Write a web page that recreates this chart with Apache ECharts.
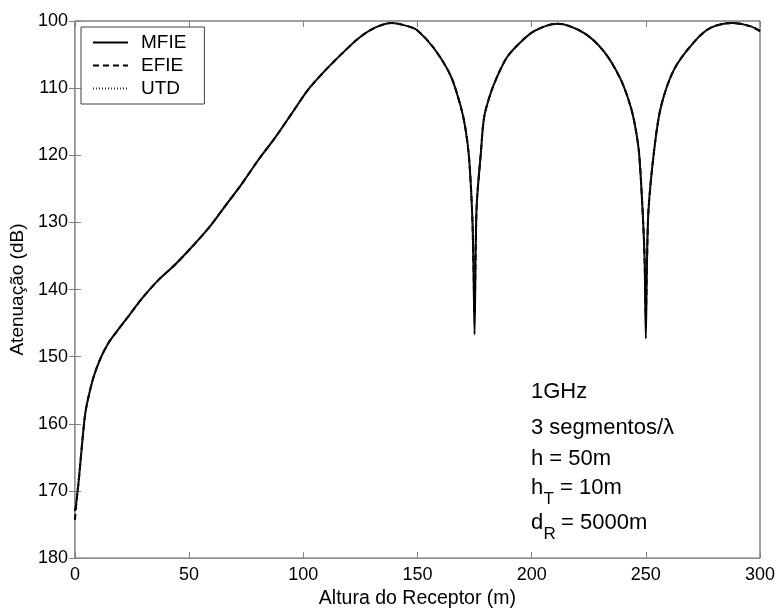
<!DOCTYPE html>
<html>
<head>
<meta charset="utf-8">
<script src="https://cdn.jsdelivr.net/npm/echarts@6/dist/echarts.min.js"></script>
<style>html,body{margin:0;padding:0;background:#fff}#c{width:779px;height:614px}</style>
</head>
<body>
<div id="c"></div>
<script>
// Receiver height (m)
var heights = [0, 0.5, 1, 1.5, 2.2, 3, 3.6, 4.5, 5.8, 8, 11, 14.6, 18.2, 23.4, 29.2, 36.5, 43.8, 51.1, 58.4, 65.7, 73, 80.3, 87.6, 94.9, 102.2, 109.5, 116.8, 124.1, 131.4, 138.7, 146, 150, 157.3, 164.6, 169, 171, 172.6, 174, 174.5, 175, 175.5, 176, 177.7, 179.2, 182, 185, 189, 193.8, 201.1, 211.3, 223, 231.8, 239, 243.4, 245.5, 247.1, 248.8, 249.5, 250, 250.5, 251.2, 253.6, 256.6, 262.4, 271.2, 278.5, 288, 296, 300];
// Attenuation (dB)
var mfie = [173.0, 172, 170.5, 169, 166.5, 163.5, 161.3, 158.5, 156.2, 153.2, 150.4, 148, 146.3, 144, 141.4, 138.6, 136.3, 133.7, 130.9, 127.6, 124.3, 120.7, 117.4, 113.8, 110.2, 107.4, 104.9, 102.6, 101, 100.3, 100.8, 101.4, 104.1, 108.2, 112.8, 116, 120.4, 129, 136, 146.7, 134, 127, 119.9, 114.3, 110.8, 108.2, 105.5, 103.6, 101.5, 100.4, 101.8, 104.6, 108.7, 112.8, 116, 119.9, 129.7, 136, 147.3, 136, 128, 119.4, 112.8, 107.2, 103.1, 101, 100.3, 100.8, 101.5];
var efie = [174.3, 172.3, 170.6, 169, 166.5, 163.5, 161.3, 158.5, 156.2, 153.2, 150.4, 148, 146.3, 144, 141.4, 138.6, 136.3, 133.7, 130.9, 127.6, 124.3, 120.7, 117.4, 113.8, 110.2, 107.4, 104.9, 102.6, 101, 100.3, 100.8, 101.4, 104.1, 108.2, 112.8, 116, 120.4, 129, 136, 143.5, 134, 127, 119.9, 114.3, 110.8, 108.2, 105.5, 103.6, 101.5, 100.4, 101.8, 104.6, 108.7, 112.8, 116, 119.9, 129.7, 136, 144, 136, 128, 119.4, 112.8, 107.2, 103.1, 101, 100.3, 100.8, 101.5];
var utd = [172.5, 171.5, 170.3, 168.8, 166.4, 163.4, 161.3, 158.5, 156.2, 153.2, 150.4, 148, 146.3, 144, 141.4, 138.6, 136.3, 133.7, 130.9, 127.6, 124.3, 120.7, 117.4, 113.8, 110.2, 107.4, 104.9, 102.6, 101, 100.3, 100.8, 101.4, 104.1, 108.2, 112.8, 116, 120.4, 129, 136, 138, 134, 127, 119.9, 114.3, 110.8, 108.2, 105.5, 103.6, 101.5, 100.4, 101.8, 104.6, 108.7, 112.8, 116, 119.9, 129.7, 136, 138, 136, 128, 119.4, 112.8, 107.2, 103.1, 101, 100.3, 100.8, 101.5];
var seriesNames = ['MFIE', 'EFIE', 'UTD'];
var xTicks = {min: 0, max: 300, interval: 50};
var yTicks = {min: 100, max: 180, interval: 10};

var FONT = '"Liberation Sans", Arial, sans-serif';
function pairs(ys) { return heights.map(function (x, i) { return [x, ys[i]]; }); }

var chart = echarts.init(document.getElementById('c'), null, {renderer: 'canvas'});
var tickStyle = {inside: true, length: 6, lineStyle: {color: '#808080', width: 1}};
var hidden = {show: false};
var lineCommon = {type: 'line', symbol: 'none', showSymbol: false, smooth: 0.3};
function mk(name, data, ls, z) {
  return Object.assign({}, lineCommon, {name: name, data: pairs(data), lineStyle: ls, itemStyle: {color: ls.color}, z: z});
}
chart.setOption({
  animation: false,
  backgroundColor: '#fff',
  grid: {left: 74, right: 19, top: 21, bottom: 53, show: true, borderColor: '#404040', borderWidth: 1, backgroundColor: 'transparent'},
  xAxis: [{
    type: 'value', min: xTicks.min, max: xTicks.max, interval: xTicks.interval, position: 'bottom',
    axisLine: hidden, axisTick: tickStyle, splitLine: hidden,
    axisLabel: {margin: 8, fontSize: 18, color: '#000', fontFamily: FONT},
    name: 'Altura do Receptor (m)', nameLocation: 'middle', nameGap: 27,
    nameTextStyle: {fontSize: 19.5, color: '#000', fontFamily: FONT}
  }, {
    type: 'value', min: xTicks.min, max: xTicks.max, interval: xTicks.interval, position: 'top',
    axisLine: hidden, axisTick: tickStyle, splitLine: hidden, axisLabel: hidden
  }],
  yAxis: [{
    type: 'value', inverse: true, min: yTicks.min, max: yTicks.max, interval: yTicks.interval, position: 'left',
    axisLine: hidden, axisTick: tickStyle, splitLine: hidden,
    axisLabel: {margin: 7, fontSize: 18, color: '#000', fontFamily: FONT},
    name: 'Atenuação (dB)', nameLocation: 'middle', nameGap: 35,
    nameTextStyle: {fontSize: 19, color: '#000', fontFamily: FONT}
  }, {
    type: 'value', inverse: true, min: yTicks.min, max: yTicks.max, interval: yTicks.interval, position: 'right',
    axisLine: hidden, axisTick: tickStyle, splitLine: hidden, axisLabel: hidden
  }],
  legend: {
    data: seriesNames, orient: 'vertical', left: 81, top: 27,
    padding: [4, 18, 4, 11], itemGap: 0, itemWidth: 35, itemHeight: 14,
    borderColor: '#404040', borderWidth: 1, backgroundColor: '#fff',
    itemStyle: {color: 'rgba(0,0,0,0)', borderWidth: 0, borderColor: 'rgba(0,0,0,0)'},
    textStyle: {fontSize: 19, color: '#000', fontFamily: FONT, lineHeight: 23, padding: [0, 0, 0, 8]}
  },
  series: [
    mk(seriesNames[0], mfie, {color: '#000', width: 2, type: 'solid'}, 3),
    mk(seriesNames[1], efie, {color: '#000', width: 2, type: [6, 4]}, 4),
    mk(seriesNames[2], utd, {color: '#333', width: 1, type: [1, 2]}, 5)
  ],
  graphic: [
    {type: 'text', x: 531, y: 392, z: 10, style: {text: '1GHz', fontSize: 22, fontFamily: FONT, fill: '#000', verticalAlign: 'middle'}},
    {type: 'text', x: 531, y: 428, z: 10, style: {text: '3 segmentos/λ', fontSize: 22, fontFamily: FONT, fill: '#000', verticalAlign: 'middle'}},
    {type: 'text', x: 531, y: 459, z: 10, style: {text: 'h = 50m', fontSize: 22, fontFamily: FONT, fill: '#000', verticalAlign: 'middle'}},
    {type: 'text', x: 531, y: 488, z: 10, style: {text: 'h', fontSize: 22, fontFamily: FONT, fill: '#000', verticalAlign: 'middle'}},
    {type: 'text', x: 543.5, y: 499, z: 10, style: {text: 'T', fontSize: 17, fontFamily: FONT, fill: '#000', verticalAlign: 'middle'}},
    {type: 'text', x: 554, y: 488, z: 10, style: {text: ' = 10m', fontSize: 22, fontFamily: FONT, fill: '#000', verticalAlign: 'middle'}},
    {type: 'text', x: 531, y: 523, z: 10, style: {text: 'd', fontSize: 22, fontFamily: FONT, fill: '#000', verticalAlign: 'middle'}},
    {type: 'text', x: 543.5, y: 534, z: 10, style: {text: 'R', fontSize: 17, fontFamily: FONT, fill: '#000', verticalAlign: 'middle'}},
    {type: 'text', x: 555, y: 523, z: 10, style: {text: ' = 5000m', fontSize: 22, fontFamily: FONT, fill: '#000', verticalAlign: 'middle'}}
  ]
});
</script>
</body>
</html>
